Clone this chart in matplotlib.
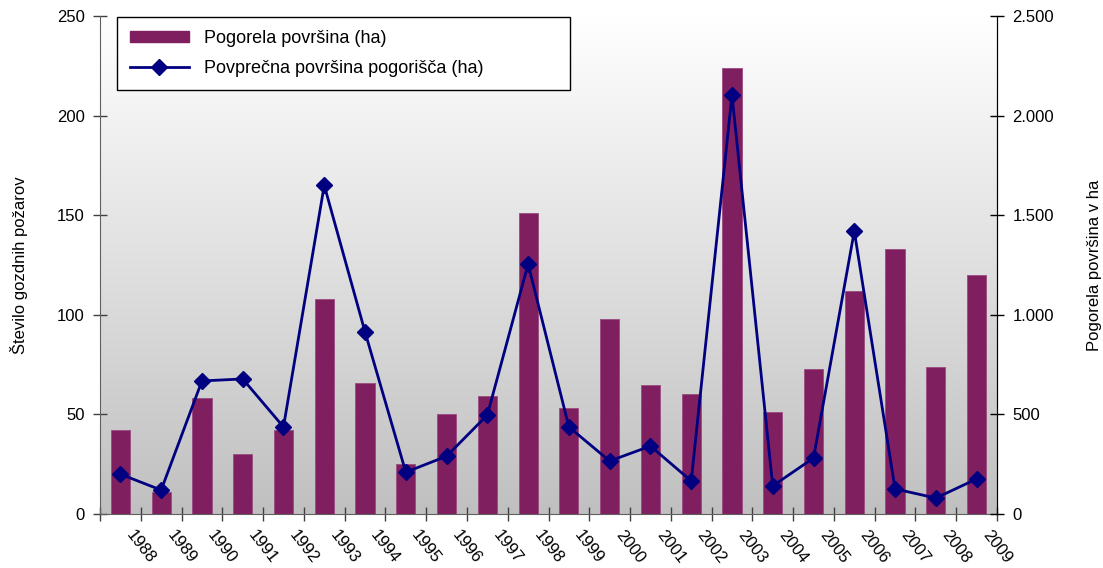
import numpy as np
import matplotlib
matplotlib.use("Agg")
import matplotlib.pyplot as plt
from matplotlib.lines import Line2D
from matplotlib.patches import Patch

plt.rcParams['font.family'] = ['Liberation Sans', 'DejaVu Sans']

years = [str(y) for y in range(1988, 2010)]
bar_values = [42, 11, 58, 30, 42, 108, 66, 25, 50, 59, 151, 53, 98, 65, 60, 224,
              51, 73, 112, 133, 74, 120]
line_values = [200, 120, 668, 678, 437, 1650, 914, 210, 290, 497, 1255, 437, 266,
               341, 166, 2103, 141, 281, 1420, 126, 80, 176]
left_ticks = [0, 50, 100, 150, 200, 250]
right_ticks = [0, 500, 1000, 1500, 2000, 2500]
right_tick_labels = ['0', '500', '1.000', '1.500', '2.000', '2.500']

bar_color = '#7f1f5f'
line_color = '#000080'

fig = plt.figure(figsize=(11.03, 5.68), dpi=100)
ax = fig.add_axes([100/1103, 54/568, 897/1103, 498/568])
ax2 = ax.twinx()

n = len(years)
x = np.arange(n)
ax.set_xlim(-0.5, n - 0.5)
ax.set_ylim(0, 250)
ax2.set_ylim(0, 2500)

# gradient background
grad = np.linspace(0, 1, 256).reshape(-1, 1)
cmap = matplotlib.colors.LinearSegmentedColormap.from_list('g', ['#c0c0c0', '#ffffff'])
ax.imshow(grad, extent=[-0.5, n - 0.5, 0, 250], origin='lower', aspect='auto',
          cmap=cmap, zorder=0)

ax.bar(x, bar_values, width=0.47, color=bar_color, edgecolor='#9a4a80', linewidth=0.6, zorder=2)
ax2.plot(x, line_values, color=line_color, lw=2, marker='D', markersize=8.5,
         markerfacecolor=line_color, markeredgecolor=line_color, zorder=3)

# spines
for a in (ax, ax2):
    a.spines['top'].set_visible(False)
ax.spines['left'].set_color('#606060')
ax.spines['bottom'].set_color('#606060')
ax2.spines['right'].set_color('#000000')
ax2.spines['left'].set_visible(False)
ax2.spines['bottom'].set_visible(False)

ax.set_yticks(left_ticks)
ax.set_yticklabels([str(t) for t in left_ticks], fontsize=12)
ax.tick_params(axis='y', direction='inout', length=10, width=1, color='#404040', pad=6)
ax2.set_yticks(right_ticks)
ax2.set_yticklabels(right_tick_labels, fontsize=12)
ax2.tick_params(axis='y', direction='inout', length=10, width=1, color='#000000', pad=6)

# x ticks at category boundaries, labels near centers
ax.set_xticks(np.arange(-0.5, n, 1.0))
ax.set_xticklabels([])
ax.tick_params(axis='x', direction='inout', length=10, width=1, color='#404040')
ax.set_xticks(x + 0.36, minor=True)
ax.set_xticklabels(years, minor=True, rotation=-52, ha='left', va='top',
                   rotation_mode='anchor', fontsize=12)
ax.tick_params(axis='x', which='minor', length=0, pad=10)

ax.set_ylabel('Število gozdnih požarov', fontsize=12, labelpad=21)
ax2.set_ylabel('Pogorela površina v ha', fontsize=12, labelpad=24)

handles = [Patch(facecolor=bar_color, edgecolor=bar_color),
           Line2D([0], [0], color=line_color, lw=2, marker='D', markersize=8.5)]
leg = ax.legend(handles, ['Pogorela površina (ha)', 'Povprečna površina pogorišča (ha)'],
                loc='upper left', bbox_to_anchor=(0.019, 0.0, 0.505, 0.998), mode='expand',
                fontsize=13, frameon=True, fancybox=False, edgecolor='black', framealpha=1,
                handlelength=3.3, handleheight=0.6, borderpad=0.7, labelspacing=0.75,
                handletextpad=0.8, borderaxespad=0.0)
leg.get_frame().set_linewidth(1)
leg.set_zorder(5)

fig.savefig('out.png', dpi=100)
